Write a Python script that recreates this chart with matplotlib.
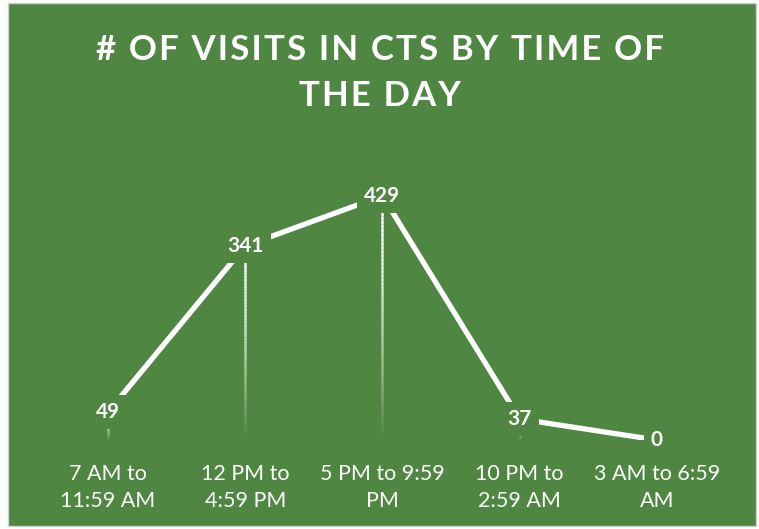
import numpy as np
import matplotlib.pyplot as plt
from matplotlib.patches import Rectangle
from matplotlib.collections import LineCollection

# data
categories = ["7 AM to\n11:59 AM", "12 PM to\n4:59 PM", "5 PM to 9:59\nPM",
              "10 PM to\n2:59 AM", "3 AM to 6:59\nAM"]
visits = [49, 341, 429, 37, 0]
title_lines = ["# OF VISITS IN CTS BY TIME OF", "THE DAY"]

green = "#4F8642"
plt.rcParams['font.family'] = ['Lato', 'DejaVu Sans']

fig = plt.figure(figsize=(7.59, 5.29), dpi=100)
fig.patch.set_facecolor("white")
bg = Rectangle((8 / 759, 3 / 529), 748 / 759, 523 / 529,
               transform=fig.transFigure, facecolor=green,
               edgecolor="#D0D0D0", lw=1, zorder=-10)
fig.patches.append(bg)

ax = fig.add_axes([0.0519, 0.1682, 0.904, 0.538])
ax.set_facecolor("none")
ax.set_zorder(5)
x = np.arange(len(visits))

# drop lines, fading towards the axis
for xi, v in zip(x, visits):
    n = 60
    ys = np.linspace(v, 0, n + 1)
    segs = [[(xi, ys[i]), (xi, ys[i + 1])] for i in range(n)]
    t = np.linspace(0, 1, n)
    cols = [(1, 1, 1, a) for a in 1 - t ** 1.5]
    ax.add_collection(LineCollection(segs, colors=cols, linewidths=1.8, zorder=1))

ax.plot(x, visits, color="white", lw=3.8, solid_capstyle="butt", zorder=2)

for xi, v in zip(x, visits):
    ax.text(xi, v, str(v), ha="center", va="center", color="white",
            fontsize=15, fontweight="bold", zorder=3,
            bbox=dict(boxstyle="square,pad=0.35", fc=green, ec="none"))

ax.set_xlim(-0.5, 4.5)
ax.set_ylim(0, 500)
ax.set_xticks(x)
ax.set_xticklabels(categories, color="white", fontsize=15.5, linespacing=1.45)
ax.tick_params(axis="x", length=0, pad=17)
ax.set_yticks([])
for s in ax.spines.values():
    s.set_visible(False)

# spaced-out title letters
hair = "\u200a"
for i, line in enumerate(title_lines):
    fig.text(0.5, 1 - (50 + 46 * i) / 529, hair.join(line), ha="center", va="center",
             color="white", fontsize=25, fontweight="bold")

fig.savefig("out.png", dpi=100, facecolor=fig.get_facecolor())
